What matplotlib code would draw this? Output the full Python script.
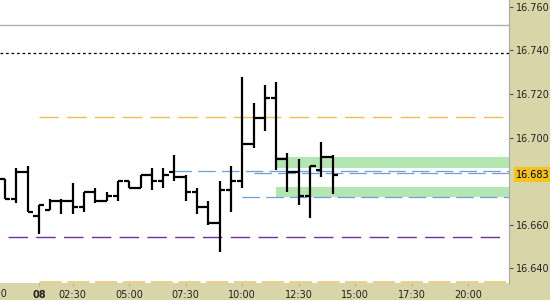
import numpy as np
import matplotlib
matplotlib.use("Agg")
import matplotlib.pyplot as plt
import matplotlib.transforms as mtransforms

# 30 minute bars (index on x)
opens = [16.681, 16.672, 16.684, 16.664, 16.667, 16.671, 16.671, 16.668, 16.675, 16.671,
         16.673, 16.680, 16.677, 16.683, 16.680, 16.684, 16.682, 16.675, 16.668, 16.661,
         16.676, 16.680, 16.697, 16.709, 16.718, 16.690, 16.684, 16.673, 16.685, 16.691]
highs = [16.681, 16.686, 16.687, 16.669, 16.672, 16.672, 16.679, 16.675, 16.677, 16.675,
         16.680, 16.680, 16.683, 16.686, 16.686, 16.692, 16.683, 16.677, 16.671, 16.680,
         16.687, 16.728, 16.716, 16.724, 16.7255, 16.693, 16.690, 16.687, 16.698, 16.692]
lows = [16.672, 16.670, 16.666, 16.656, 16.667, 16.665, 16.665, 16.666, 16.670, 16.671,
        16.671, 16.677, 16.677, 16.676, 16.677, 16.680, 16.671, 16.665, 16.660, 16.6475,
        16.666, 16.677, 16.695, 16.703, 16.685, 16.675, 16.669, 16.663, 16.682, 16.674]
closes = [16.672, 16.684, 16.666, 16.669, 16.671, 16.671, 16.668, 16.675, 16.671, 16.673,
          16.680, 16.677, 16.683, 16.680, 16.683, 16.682, 16.675, 16.668, 16.661, 16.676,
          16.680, 16.697, 16.709, 16.718, 16.690, 16.684, 16.673, 16.687, 16.691, 16.683]
last_price = 16.683

# horizontal levels
gray_level = 16.7516
black_level = 16.739
orange_level = 16.7093
purple_level = 16.6545
blue_levels = [16.6845, 16.6836, 16.6726]
blue_starts = [15, 22, 21]
bottom_level = 16.6337

# green zones (low, high)
zone_lows = [16.6860, 16.6728]
zone_highs = [16.6909, 16.6775]
zone_start = 24

tick_pos = [3, 6, 11, 16, 21, 26, 31, 36, 41]
tick_labels = ["08", "02:30", "05:00", "07:30", "10:00", "12:30", "15:00", "17:30", "20:00"]
y_ticks = [16.640, 16.660, 16.700, 16.720, 16.740, 16.760]

tan = "#d8d5a9"
fig = plt.figure(figsize=(5.5, 3), dpi=100, facecolor=tan)
ax = fig.add_axes([0, 17 / 300, 509 / 550, 283 / 300])
ax.set_facecolor("white")

x_right = 44.6
ax.set_xlim(-0.44, x_right)
ax.set_ylim(16.6333, 16.7631)

# levels
ax.axhline(gray_level, color="#b0b0b0", lw=1)
ax.axhline(black_level, color="black", lw=0.9, linestyle=(0, (2.2, 2.2)))
ax.hlines(orange_level, 3, x_right, color="#ecbd50", lw=1, linestyles=[(0, (14, 6))])
ax.hlines(purple_level, 0.3, 44.2, color="#7030a0", lw=1, linestyles=[(0, (14, 6))])
for lv, st in zip(blue_levels, blue_starts):
    ax.hlines(lv, st, x_right, color="#6f9fd8", lw=0.9, linestyles=[(0, (14, 5))])
ax.hlines(bottom_level, 3, x_right, color="#eccd86", lw=2, linestyles=[(0, (8, 2))])

for lo, hi in zip(zone_lows, zone_highs):
    ax.fill_between([zone_start, x_right], lo, hi, color="#b4e6b2", lw=0, zorder=1)

# OHLC bars
idx = np.arange(len(opens))
ax.vlines(idx, lows, highs, color="black", lw=1.6, zorder=3)
ax.hlines(opens, idx - 0.48, idx, color="black", lw=1.6, zorder=3)
ax.hlines(closes, idx, idx + 0.48, color="black", lw=1.6, zorder=3)

# axes styling
for s in ["top", "left", "bottom"]:
    ax.spines[s].set_visible(False)
ax.spines["right"].set_color("#a8a8a8")
ax.spines["right"].set_linewidth(0.8)

ax.yaxis.tick_right()
ax.set_yticks(y_ticks)
ax.set_yticklabels(["%.3f" % v for v in y_ticks])
ax.tick_params(axis="y", direction="out", length=3, width=0.8, color="#555555",
               labelsize=7, labelcolor="#222222", pad=2)

ax.set_xticks(tick_pos)
ax.set_xticklabels(tick_labels)
ax.tick_params(axis="x", direction="out", length=2, width=0.6, color="#b0ac80",
               labelsize=7, labelcolor="#222222", pad=3)
ax.get_xticklabels()[0].set_fontweight("bold")

# partly hidden label on the left edge (cut off in the original too)
trans = mtransforms.blended_transform_factory(ax.transData, ax.transAxes)
ax.text(-1.05, -0.022, "23:00", transform=trans, ha="center", va="top",
        fontsize=7, color="#222222", clip_on=False)

# last price marker
ax.annotate("%.3f" % last_price, xy=(1.0, last_price),
            xycoords=("axes fraction", "data"), xytext=(5, 0),
            textcoords="offset points", ha="left", va="center", fontsize=7,
            color="black", annotation_clip=False,
            bbox=dict(boxstyle="square,pad=0.25", fc="#f6c21c", ec="none"))

fig.savefig("out.png", dpi=100, facecolor=tan)
